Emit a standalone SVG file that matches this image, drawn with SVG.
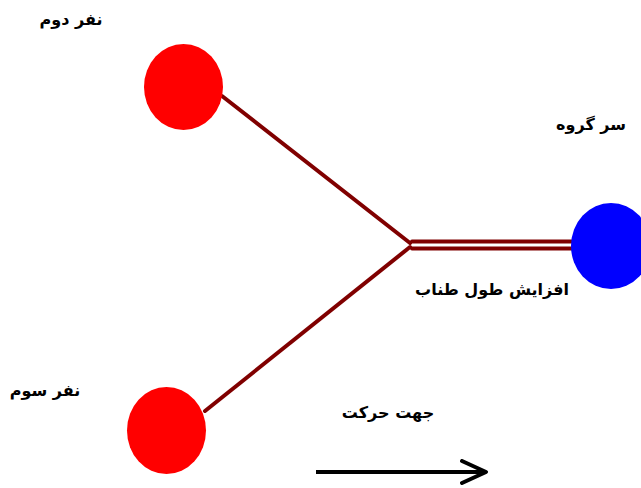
<svg xmlns="http://www.w3.org/2000/svg" width="641" height="488" viewBox="0 0 641 488">
<style>
.lbl{font-family:"DejaVu Sans","Noto Sans",sans-serif;font-size:16px;font-weight:bold;fill:#000;text-anchor:middle}
.rope{stroke:#800000;stroke-width:4;fill:none;stroke-linecap:round}
</style>
<defs>
<marker id="chev" viewBox="0 0 30 26" refX="26" refY="13" markerWidth="30" markerHeight="26" markerUnits="userSpaceOnUse" orient="auto">
<path d="M2,2 L26,13 L2,24" fill="none" stroke="#000" stroke-width="4" stroke-linecap="round" stroke-linejoin="round"/>
</marker>
</defs>
<rect width="641" height="488" fill="#fff"/>
<g id="connectors">
<line class="rope" x1="222" y1="96" x2="410" y2="243"/>
<line class="rope" x1="410" y1="247" x2="205" y2="411"/>
<line class="rope" x1="412" y1="241.5" x2="573" y2="241.5"/>
<line class="rope" x1="412" y1="248.5" x2="573" y2="248.5"/>
<line x1="316" y1="472" x2="486" y2="472" stroke="#000" stroke-width="4" marker-end="url(#chev)"/>
</g>
<g id="node-second">
<ellipse cx="183.5" cy="87" rx="39.5" ry="43" fill="#ff0000"/>
<text class="lbl" x="71" y="25">نفر دوم</text>
</g>
<g id="node-third">
<ellipse cx="166.5" cy="430.5" rx="39.5" ry="43.5" fill="#ff0000"/>
<text class="lbl" x="45" y="396">نفر سوم</text>
</g>
<g id="node-leader">
<ellipse cx="611" cy="246" rx="40" ry="43" fill="#0000ff"/>
<text class="lbl" x="591" y="130">سر گروه</text>
</g>
<g id="labels">
<text class="lbl" x="492" y="295">افزایش طول طناب</text>
<text class="lbl" x="388" y="418">جهت حرکت</text>
</g>
</svg>
